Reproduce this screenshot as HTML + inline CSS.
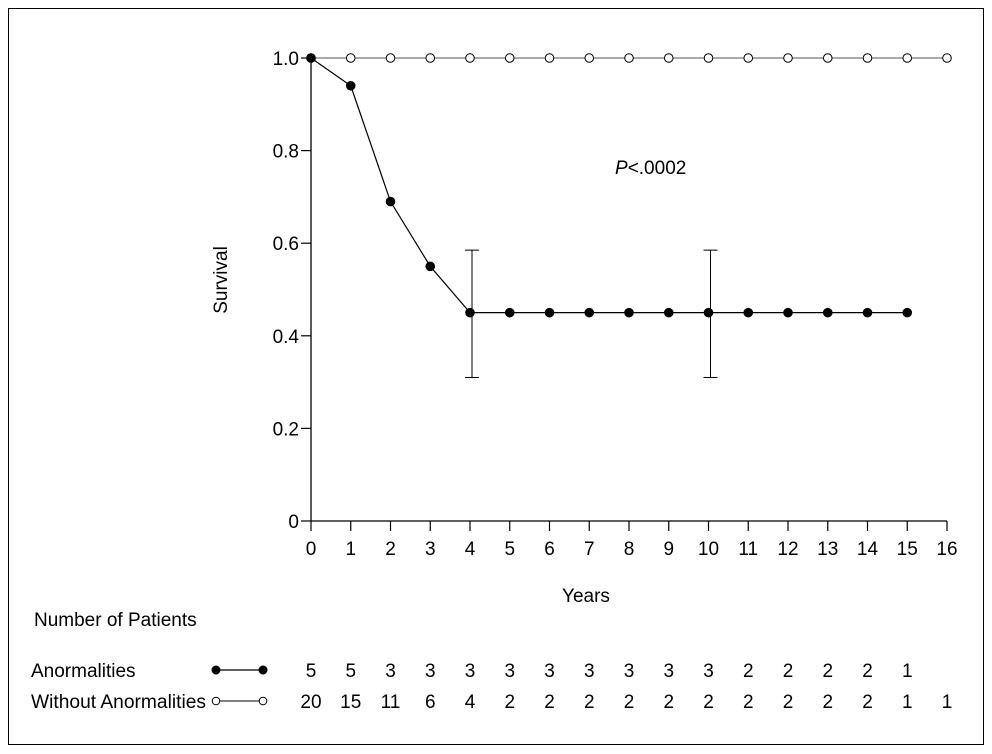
<!DOCTYPE html>
<html><head><meta charset="utf-8"><style>
html,body{margin:0;padding:0;background:#fff;}
svg{display:block;font-family:"Liberation Sans",sans-serif;}
</style></head><body>
<svg id="chart" width="992" height="754" viewBox="0 0 992 754" xmlns="http://www.w3.org/2000/svg">
<rect x="8.5" y="8.5" width="975" height="736" fill="none" stroke="#000" stroke-width="1"/>
<g id="axes"></g>
<g id="marks"></g>
<text transform="translate(227,280) rotate(-90)" text-anchor="middle" font-size="19">Survival</text>
<text x="586" y="602" text-anchor="middle" font-size="19">Years</text>
<text x="615" y="174" font-size="19"><tspan font-style="italic">P</tspan>&lt;.0002</text>
<text x="34" y="626" font-size="19">Number of Patients</text>
<text x="31" y="677" font-size="19">Anormalities</text>
<text x="31" y="708" font-size="19" textLength="175" lengthAdjust="spacingAndGlyphs">Without Anormalities</text>
<g>
<line x1="216" y1="670" x2="263" y2="670" stroke="#000" stroke-width="1.2"/>
<circle cx="216" cy="670" r="4.5" fill="#000"/><circle cx="263" cy="670" r="4.5" fill="#000"/>
</g>
<g>
<line x1="216" y1="701" x2="263" y2="701" stroke="#000" stroke-width="1"/>
<circle cx="216" cy="701" r="3.8" fill="#fff" stroke="#000"/><circle cx="263" cy="701" r="3.8" fill="#fff" stroke="#000"/>
</g>
<g id="risk"></g>
</svg>
<script>
const years = [0,1,2,3,4,5,6,7,8,9,10,11,12,13,14,15,16];
const withoutSurvival = [1,1,1,1,1,1,1,1,1,1,1,1,1,1,1,1,1];
const anormYears = [0,1,2,3,4,5,6,7,8,9,10,11,12,13,14,15];
const anormSurvival = [1,0.94,0.69,0.55,0.45,0.45,0.45,0.45,0.45,0.45,0.45,0.45,0.45,0.45,0.45,0.45];
const errYears = [4.05,10.05];
const errLow = [0.31,0.31];
const errHigh = [0.585,0.585];
const yTicks = [0,0.2,0.4,0.6,0.8,1.0];
const yTickLabels = ["0","0.2","0.4","0.6","0.8","1.0"];
const riskAnorm = [5,5,3,3,3,3,3,3,3,3,3,2,2,2,2,1];
const riskWithout = [20,15,11,6,4,2,2,2,2,2,2,2,2,2,2,1,1];

const NS="http://www.w3.org/2000/svg";
const X0=311,X1=947,Y0=521,Y1=58;
const xs=v=>X0+(v/16)*(X1-X0);
const ys=v=>Y0-v*(Y0-Y1);
function mk(tag,attrs,parent){const e=document.createElementNS(NS,tag);for(const k in attrs)e.setAttribute(k,attrs[k]);parent.appendChild(e);return e;}
const axes=document.getElementById('axes'),marks=document.getElementById('marks'),risk=document.getElementById('risk');

let e=mk('line',{x1:X0,y1:Y0,x2:X1,y2:Y0,stroke:'#000','stroke-width':1.3},axes);


e=mk('line',{x1:X0,y1:Y0,x2:X0,y2:Y1,stroke:'#000','stroke-width':1.3},axes);


years.forEach(v=>{
 let t=mk('line',{x1:xs(v),y1:Y0,x2:xs(v),y2:Y0+10,stroke:'#000','stroke-width':1.2},axes);
 
 
 let l=mk('text',{x:xs(v),y:555,'text-anchor':'middle','font-size':19},axes);l.textContent=v;
 
 
});
yTicks.forEach((v,i)=>{
 let t=mk('line',{x1:X0-10,y1:ys(v),x2:X0,y2:ys(v),stroke:'#000','stroke-width':1.2},axes);
 
 
 let l=mk('text',{x:X0-12,y:ys(v)+7,'text-anchor':'end','font-size':19},axes);l.textContent=yTickLabels[i];
 
 
});
let p=mk('polyline',{points:years.map((v,i)=>xs(v)+','+ys(withoutSurvival[i])).join(' '),fill:'none',stroke:'#555','stroke-width':1},marks);


p=mk('polyline',{points:anormYears.map((v,i)=>xs(v)+','+ys(anormSurvival[i])).join(' '),fill:'none',stroke:'#000','stroke-width':1.2},marks);


errYears.forEach((v,i)=>{
 const g=mk('g',{},marks);
 
 
 mk('line',{x1:xs(v),y1:ys(errLow[i]),x2:xs(v),y2:ys(errHigh[i]),stroke:'#000','stroke-width':1},g);
 mk('line',{x1:xs(v)-7,y1:ys(errLow[i]),x2:xs(v)+7,y2:ys(errLow[i]),stroke:'#000','stroke-width':1},g);
 mk('line',{x1:xs(v)-7,y1:ys(errHigh[i]),x2:xs(v)+7,y2:ys(errHigh[i]),stroke:'#000','stroke-width':1},g);
});
years.forEach((v,i)=>{
 let c=mk('circle',{cx:xs(v),cy:ys(withoutSurvival[i]),r:4.3,fill:'#fff',stroke:'#000','stroke-width':1},marks);
 
 
});
anormYears.forEach((v,i)=>{
 let c=mk('circle',{cx:xs(v),cy:ys(anormSurvival[i]),r:4.8,fill:'#000'},marks);
 
 
});
riskAnorm.forEach((n,i)=>{
 let t=mk('text',{x:xs(i),y:677,'text-anchor':'middle','font-size':19},risk);t.textContent=n;
 
 
});
riskWithout.forEach((n,i)=>{
 let t=mk('text',{x:xs(i),y:708,'text-anchor':'middle','font-size':19},risk);t.textContent=n;
 
 
});
</script>
</body></html>
